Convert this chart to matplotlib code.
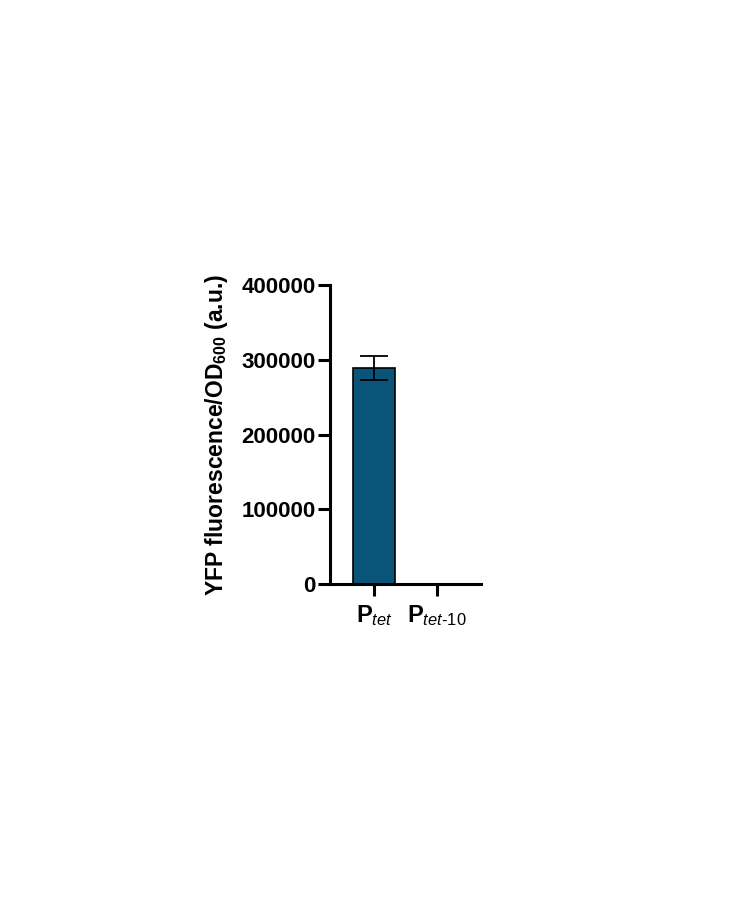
import matplotlib
matplotlib.use('Agg')
import matplotlib.pyplot as plt

plt.rcParams.update({
    'font.family': ['Liberation Sans', 'DejaVu Sans'],
    'font.size': 16,
    'font.weight': 'bold',
    'mathtext.fontset': 'custom',
    'mathtext.rm': 'Liberation Sans:weight=normal',
    'mathtext.it': 'Liberation Sans:style=italic:weight=normal',
    'mathtext.bf': 'Liberation Sans:weight=bold',
})

# data
labels = [r'$\mathbf{P}_{\mathit{tet}}$', r'$\mathbf{P}_{\mathit{tet}\text{-10}}$']
means = [289000, 0]
errors = [16500, 0]
yticks = [0, 100000, 200000, 300000, 400000]

fig = plt.figure(figsize=(7.5, 9), dpi=100)
ax = fig.add_axes([0.44, 0.3511, 0.2013, 0.3322])

x = range(len(labels))
ax.bar(x, means, width=0.667, color='#0b5479', edgecolor='black', linewidth=1.2, zorder=2)
ax.errorbar([0], means[:1], yerr=errors[:1], fmt='none', ecolor='black',
            elinewidth=1.3, capsize=10, capthick=1.3, zorder=3)

ax.set_xlim(-0.7, 1.7)
ax.set_ylim(0, 400000)
ax.set_yticks(yticks)
ax.set_yticklabels([str(v) for v in yticks])
ax.set_xticks(list(x))
ax.set_xticklabels(labels, fontsize=17)

for s in ['top', 'right']:
    ax.spines[s].set_visible(False)
for s in ['left', 'bottom']:
    ax.spines[s].set_linewidth(2.2)
ax.tick_params(width=2.2, length=8.5, labelsize=16)
ax.tick_params(axis='y', pad=2)
ax.tick_params(axis='x', pad=5, labelsize=17)

ax.set_ylabel(r'YFP fluorescence/OD$_{\mathbf{600}}$ (a.u.)', fontsize=16.5, fontweight='bold', labelpad=8)

fig.savefig('out.png', dpi=100)
